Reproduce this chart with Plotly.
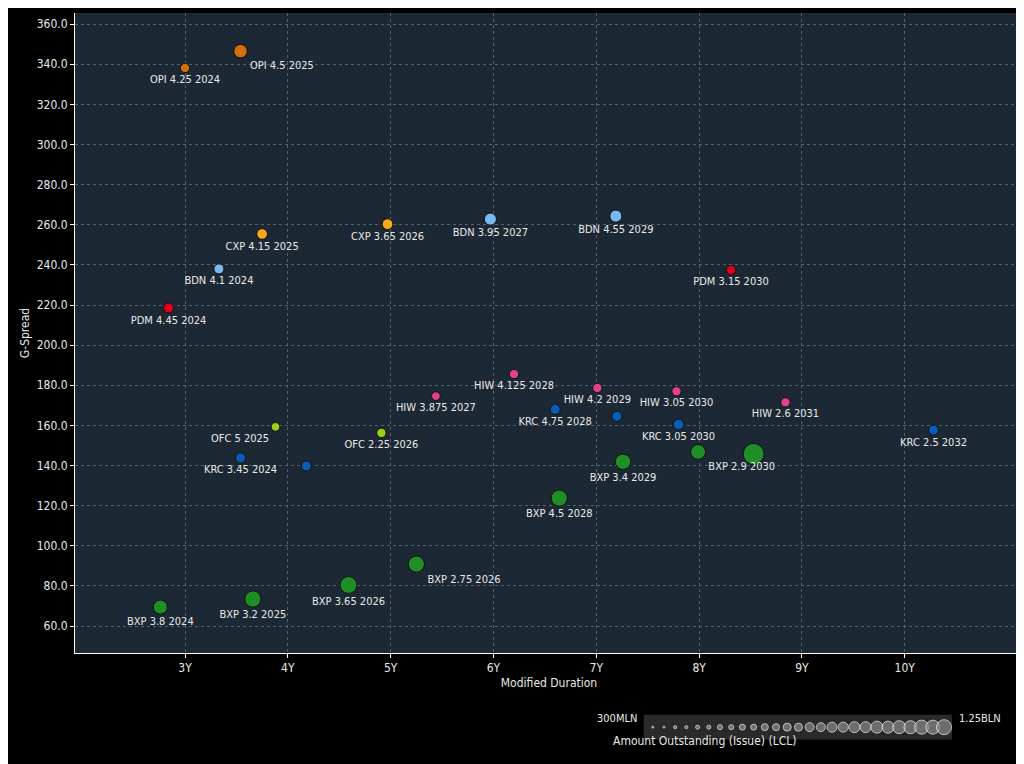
import plotly.graph_objects as go

# bond issues: modified duration (years), G-spread, amount outstanding (MLN)
names = ["OPI 4.25 2024", "OPI 4.5 2025", "CXP 4.15 2025", "CXP 3.65 2026",
         "BDN 4.1 2024", "BDN 3.95 2027", "BDN 4.55 2029",
         "PDM 4.45 2024", "PDM 3.15 2030",
         "HIW 4.125 2028", "HIW 4.2 2029", "HIW 3.875 2027", "HIW 3.05 2030", "HIW 2.6 2031",
         "KRC 4.75 2028", "", "KRC 3.05 2030", "KRC 2.5 2032", "KRC 3.45 2024", "",
         "OFC 5 2025", "OFC 2.25 2026",
         "BXP 3.4 2029", "BXP 2.9 2030", "", "BXP 4.5 2028", "BXP 2.75 2026",
         "BXP 3.65 2026", "BXP 3.2 2025", "BXP 3.8 2024"]
duration = [3.0, 3.54, 3.75, 4.97, 3.33, 5.97, 7.19, 2.84, 8.31,
            6.2, 7.01, 5.44, 7.78, 8.84,
            6.6, 7.2, 7.8, 10.28, 3.54, 4.18,
            3.88, 4.91,
            7.26, 7.99, 8.53, 6.64, 5.25, 4.59, 3.66, 2.76]
gspread = [338.1, 346.5, 255.4, 260.3, 238.0, 262.8, 264.3, 218.5, 237.4,
           185.6, 178.7, 174.6, 177.0, 171.5,
           168.0, 164.5, 160.5, 157.7, 143.8, 139.8,
           159.3, 156.3,
           141.9, 146.8, 145.8, 123.8, 90.9, 80.5, 73.5, 69.5]
amount = [400, 700, 500, 500, 450, 600, 600, 450, 400,
          400, 400, 350, 400, 400,
          450, 450, 500, 450, 450, 450,
          350, 400,
          850, 800, 1250, 900, 900, 950, 900, 750]
issuer_colors = {"OPI": "#d2700c", "CXP": "#f7a91e", "BDN": "#7ab8f0", "PDM": "#e3001b",
                 "HIW": "#e0438c", "KRC": "#0b5cb5", "OFC": "#9ccf1b", "BXP": "#1f8e26"}
issuer = ["OPI", "OPI", "CXP", "CXP", "BDN", "BDN", "BDN", "PDM", "PDM",
          "HIW", "HIW", "HIW", "HIW", "HIW",
          "KRC", "KRC", "KRC", "KRC", "KRC", "KRC",
          "OFC", "OFC",
          "BXP", "BXP", "BXP", "BXP", "BXP", "BXP", "BXP", "BXP"]
label_pos = ["bottom center", "bottom right", "bottom center", "bottom center",
             "bottom center", "bottom center", "bottom center", "bottom center", "bottom center",
             "bottom center", "bottom center", "bottom center", "bottom center", "bottom center",
             "bottom center", "bottom center", "bottom center", "bottom center", "bottom center", "bottom center",
             "bottom left", "bottom center",
             "bottom center", "bottom right", "bottom center", "bottom center", "bottom right",
             "bottom center", "bottom center", "bottom center"]
legend_dots = [2, 2, 3, 3, 4, 4, 5, 5, 6, 6, 7, 7, 8, 8, 9, 9, 10, 10, 11, 11, 12, 12, 13, 13, 14, 14, 15]

sizes = [8 + (a - 300) / 950 * 13 for a in amount]
font = "DejaVu Sans Condensed, DejaVu Sans"

fig = go.Figure()
fig.add_trace(go.Scatter(
    x=duration, y=gspread, mode="markers+text", text=names, textposition=label_pos,
    textfont=dict(color="#e8e8e8", size=11, family=font),
    marker=dict(size=sizes, color=[issuer_colors[i] for i in issuer],
                line=dict(color="#111111", width=1), opacity=1),
    hovertext=[f"{n} {a}MLN" for n, a in zip(names, amount)], showlegend=False))

# amount outstanding size legend
fig.add_trace(go.Scatter(
    x=list(range(len(legend_dots))), y=[0] * len(legend_dots), mode="markers",
    marker=dict(size=legend_dots, color="#8a8a8a"), xaxis="x2", yaxis="y2",
    showlegend=False, hoverinfo="skip"))

fig.update_layout(
    width=1024, height=764,
    paper_bgcolor="#000000", plot_bgcolor="#1c2833",
    margin=dict(l=67, r=9, t=5, b=10),
    font=dict(family=font, color="#e8e8e8", size=12),
    xaxis=dict(range=[1.93, 11.15], tickvals=[3, 4, 5, 6, 7, 8, 9, 10],
               ticktext=["3Y", "4Y", "5Y", "6Y", "7Y", "8Y", "9Y", "10Y"],
               showgrid=True, gridcolor="#55606a", griddash="dot", zeroline=False,
               title=dict(text="Modified Duration", font=dict(size=12), standoff=4),
               ticks="outside", tickcolor="#ffffff", ticklen=4,
               showline=True, linecolor="#ffffff"),
    yaxis=dict(domain=[0.1455, 1], range=[46.6, 365.5], dtick=20, tickformat=".1f",
               showgrid=True, gridcolor="#55606a", griddash="dot", zeroline=False,
               title=dict(text="G-Spread", font=dict(size=12), standoff=4),
               ticks="outside", tickcolor="#ffffff", ticklen=4,
               showline=True, linecolor="#ffffff"),
    xaxis2=dict(domain=[0.6, 0.925], anchor="y2", range=[-0.8, len(legend_dots) - 0.3],
                visible=False),
    yaxis2=dict(domain=[0.035, 0.058], anchor="x2", range=[-1, 1], visible=False),
    shapes=[dict(type="rect", xref="paper", yref="paper", x0=0.6, x1=0.925,
                 y0=0.03, y1=0.063, fillcolor="#2a2a2a", line=dict(width=0), layer="below")],
    annotations=[
        dict(text="300MLN", xref="paper", yref="paper", x=0.595, y=0.0465,
             xanchor="right", showarrow=False, font=dict(size=11)),
        dict(text="1.25BLN", xref="paper", yref="paper", x=0.93, y=0.0465,
             xanchor="left", showarrow=False, font=dict(size=11)),
        dict(text="Amount Outstanding (Issue) (LCL)", xref="paper", yref="paper",
             x=0.763, y=0.016, showarrow=False, font=dict(size=12)),
    ],
)

fig.write_html("out.html")
